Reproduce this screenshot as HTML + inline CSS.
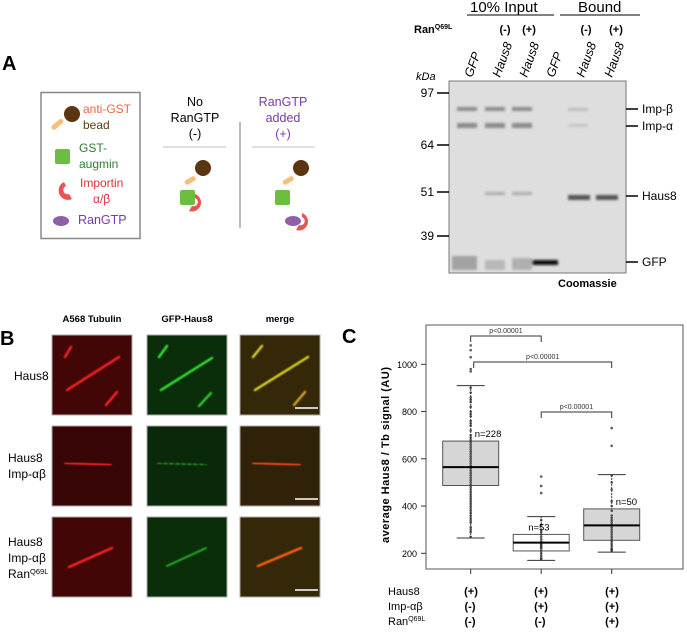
<!DOCTYPE html>
<html><head><meta charset="utf-8">
<style>
body{margin:0;background:#fff;}
svg{display:block;font-family:"Liberation Sans",Arial,sans-serif;}
</style></head>
<body>
<svg id="fig" width="687" height="636" viewBox="0 0 687 636">
<defs>
<filter id="blur1"><feGaussianBlur stdDeviation="0.8"/></filter>
<filter id="blur2"><feGaussianBlur stdDeviation="1.2"/></filter>
</defs>
<!-- Panel A -->
<text x="2" y="70" font-size="20" font-weight="bold">A</text>
<g>
<rect x="41" y="92.5" width="99" height="146" fill="#fff" stroke="#888" stroke-width="1.5"/>
<rect x="50" y="122" width="14" height="5" rx="2.5" fill="#f6c07a" transform="rotate(-40 57 124)"/>
<circle cx="72" cy="114" r="8" fill="#5a3510"/>
<text x="83" y="113" font-size="12" fill="#f0663c">anti-GST</text>
<text x="83" y="129" font-size="12" fill="#5a3a1c">bead</text>
<rect x="55" y="149" width="15" height="15" rx="2" fill="#6abf40"/>
<text x="79" y="152" font-size="12" fill="#2e7d32">GST-</text>
<text x="79" y="168" font-size="12" fill="#2e7d32">augmin</text>
<path d="M64 182 a9 9 0 1 0 8 17 l-3 -5 a4 4 0 1 1 -3 -8 z" fill="#e85454"/>
<text x="80" y="187" font-size="12" fill="#d8343c">Importin</text>
<text x="93" y="203" font-size="12" fill="#d8343c">α/β</text>
<ellipse cx="61" cy="221" rx="8" ry="5" fill="#8e60a8"/>
<text x="78" y="224" font-size="12.5" fill="#7a3aa8">RanGTP</text>
</g>
<g>
<text x="195" y="106" font-size="12.5" text-anchor="middle">No</text>
<text x="195" y="122" font-size="12.5" text-anchor="middle">RanGTP</text>
<text x="195" y="138" font-size="12.5" text-anchor="middle">(-)</text>
<line x1="163" y1="147" x2="226" y2="147" stroke="#c8b8d8"/>
<circle cx="203" cy="168" r="8" fill="#5a3510"/>
<rect x="184" y="178" width="12" height="5" rx="2.5" fill="#f6c07a" transform="rotate(-30 190 180)"/>
<path d="M195 194 a9 9 0 1 1 -6 17 l3 -5 a4 4 0 1 0 3 -8 z" fill="#e85454"/>
<rect x="180" y="190" width="15" height="15" rx="2" fill="#6abf40"/>
</g>
<line x1="240" y1="122" x2="240" y2="228" stroke="#777"/>
<g>
<text x="283" y="106" font-size="12.5" text-anchor="middle" fill="#7a3aa8">RanGTP</text>
<text x="283" y="122" font-size="12.5" text-anchor="middle" fill="#7a3aa8">added</text>
<text x="283" y="138" font-size="12.5" text-anchor="middle" fill="#7a3aa8">(+)</text>
<line x1="252" y1="147" x2="315" y2="147" stroke="#c8b8d8"/>
<circle cx="301" cy="168" r="8" fill="#5a3510"/>
<rect x="282" y="178" width="12" height="5" rx="2.5" fill="#f6c07a" transform="rotate(-30 288 180)"/>
<rect x="275" y="190" width="15" height="15" rx="2" fill="#6abf40"/>
<path d="M302 213 a9 9 0 1 1 -6 17 l3 -5 a4 4 0 1 0 3 -8 z" fill="#e85454"/>
<ellipse cx="293" cy="221" rx="8" ry="5" fill="#8e60a8"/>
</g>
<!-- Gel -->
<g>
<text x="470" y="12" font-size="15">10% Input</text>
<line x1="467" y1="15" x2="554" y2="15" stroke="#000"/>
<text x="578" y="12" font-size="15">Bound</text>
<line x1="560" y1="15" x2="640" y2="15" stroke="#000"/>
<text x="414" y="33" font-size="11" font-weight="bold">Ran<tspan font-size="7" dy="-4">Q69L</tspan></text>
<g font-size="11" font-weight="bold" text-anchor="middle">
<text x="505" y="33">(-)</text><text x="529" y="33">(+)</text>
<text x="586" y="33">(-)</text><text x="616" y="33">(+)</text>
</g>
<g font-size="12.5" font-style="italic">
<text transform="translate(472,78) rotate(-70)">GFP</text>
<text transform="translate(500,78) rotate(-70)">Haus8</text>
<text transform="translate(527,78) rotate(-70)">Haus8</text>
<text transform="translate(554,78) rotate(-70)">GFP</text>
<text transform="translate(584,78) rotate(-70)">Haus8</text>
<text transform="translate(612,78) rotate(-70)">Haus8</text>
</g>
<text x="416" y="80" font-size="11" font-style="italic">kDa</text>
<rect x="449" y="81" width="177" height="192" fill="#dedede" stroke="#777"/>
<g filter="url(#blur2)">
<rect x="457" y="107" width="20" height="4" fill="#8a8a8a"/><rect x="485" y="107" width="20" height="4" fill="#8a8a8a"/><rect x="512" y="107" width="20" height="4" fill="#8a8a8a"/>
<rect x="457" y="123" width="20" height="5" fill="#8a8a8a"/><rect x="485" y="123" width="20" height="5" fill="#8a8a8a"/><rect x="512" y="123" width="20" height="5" fill="#8a8a8a"/>
<rect x="485" y="192" width="20" height="3" fill="#ababab"/><rect x="512" y="192" width="20" height="3" fill="#ababab"/>
<rect x="568" y="108" width="20" height="3" fill="#bcbcbc"/><rect x="568" y="124" width="20" height="3" fill="#c4c4c4"/>
<rect x="568" y="195" width="22" height="5" fill="#555"/><rect x="596" y="195" width="22" height="5" fill="#555"/>
<rect x="531" y="260" width="27" height="5" fill="#111"/>
<rect x="452" y="256" width="25" height="14" fill="#a2a2a2"/><rect x="485" y="260" width="20" height="10" fill="#b8b8b8"/><rect x="512" y="258" width="20" height="12" fill="#b0b0b0"/>
</g>
<g font-size="12" text-anchor="end">
<text x="434" y="97">97</text><text x="434" y="149">64</text><text x="434" y="196">51</text><text x="434" y="240">39</text>
</g>
<g stroke="#000" stroke-width="1.5">
<line x1="437" y1="93" x2="449" y2="93"/><line x1="437" y1="145" x2="449" y2="145"/><line x1="437" y1="192" x2="449" y2="192"/><line x1="437" y1="236" x2="449" y2="236"/>
<line x1="626" y1="109" x2="638" y2="109"/><line x1="626" y1="126" x2="638" y2="126"/><line x1="626" y1="196" x2="638" y2="196"/><line x1="626" y1="262" x2="638" y2="262"/>
</g>
<g font-size="12">
<text x="642" y="113">Imp-β</text><text x="642" y="130">Imp-α</text><text x="642" y="200">Haus8</text><text x="642" y="266">GFP</text>
</g>
<text x="558" y="287" font-size="11" font-weight="bold">Coomassie</text>
</g>
<!-- Panel B -->
<text x="0" y="345" font-size="20" font-weight="bold">B</text>
<g font-size="9.5" font-weight="bold" text-anchor="middle">
<text x="92" y="322">A568 Tubulin</text><text x="187" y="322">GFP-Haus8</text><text x="280" y="322">merge</text>
</g>
<g font-size="12">
<text x="14" y="380">Haus8</text>
<text x="8" y="462">Haus8</text><text x="8" y="478">Imp-αβ</text>
<text x="8" y="546">Haus8</text><text x="8" y="562">Imp-αβ</text><text x="8" y="578">Ran<tspan font-size="7.5" dy="-4">Q69L</tspan></text>
</g>
<g id="micro">
<rect x="52" y="335" width="80" height="80" fill="#420606" stroke="#aaa"/>
<rect x="147" y="335" width="80" height="80" fill="#0a2e0a" stroke="#aaa"/>
<rect x="240" y="335" width="80" height="80" fill="#342808" stroke="#aaa"/>
<g stroke-width="2.5" stroke-linecap="round" filter="url(#blur1)">
<line x1="67" y1="390" x2="119" y2="357" stroke="#ff2020"/><line x1="65" y1="357" x2="71" y2="347" stroke="#ff2020"/><line x1="106" y1="405" x2="117" y2="392" stroke="#ff2020"/>
<line x1="161" y1="390" x2="212" y2="358" stroke="#30e030"/><line x1="159" y1="357" x2="167" y2="346" stroke="#30e030"/><line x1="199" y1="406" x2="211" y2="393" stroke="#30c030"/>
<line x1="255" y1="390" x2="308" y2="357" stroke="#d8d020"/><line x1="253" y1="357" x2="262" y2="346" stroke="#d8d020"/><line x1="294" y1="405" x2="305" y2="392" stroke="#d8a020"/>
</g>
<rect x="52" y="426" width="80" height="80" fill="#380606" stroke="#aaa"/>
<rect x="147" y="426" width="80" height="80" fill="#0a280a" stroke="#aaa"/>
<rect x="240" y="426" width="80" height="80" fill="#302208" stroke="#aaa"/>
<g stroke-width="2" stroke-linecap="round" filter="url(#blur1)">
<line x1="65" y1="463" x2="111" y2="465" stroke="#ff2020"/>
<line x1="158" y1="463" x2="206" y2="465" stroke="#208a20" stroke-dasharray="3 3"/>
<line x1="253" y1="463" x2="300" y2="465" stroke="#ff4a10"/>
</g>
<rect x="52" y="517" width="80" height="80" fill="#420606" stroke="#aaa"/>
<rect x="147" y="517" width="80" height="80" fill="#0a2e0a" stroke="#aaa"/>
<rect x="240" y="517" width="80" height="80" fill="#342808" stroke="#aaa"/>
<g stroke-width="2.5" stroke-linecap="round" filter="url(#blur1)">
<line x1="69" y1="567" x2="112" y2="548" stroke="#ff2020"/>
<line x1="167" y1="566" x2="206" y2="548" stroke="#28b028" stroke-width="1.8"/>
<line x1="258" y1="566" x2="301" y2="548" stroke="#ff6010"/>
</g>
<g stroke="#fff" stroke-width="1.5">
<line x1="295" y1="408" x2="318" y2="408"/><line x1="295" y1="499" x2="318" y2="499"/><line x1="295" y1="590" x2="318" y2="590"/>
</g>
</g>
<!-- Panel C -->
<text x="342" y="343" font-size="20" font-weight="bold">C</text>
<rect x="426" y="325" width="257" height="244" fill="#fff" stroke="#555"/>
<text transform="translate(389,455) rotate(-90)" font-size="11" font-weight="bold" text-anchor="middle" textLength="176">average Haus8 / Tb signal (AU)</text>
<g id="yaxis"></g>
<g id="boxes"></g>
<g id="brackets"></g>
<g font-size="11">
<text x="388" y="595">Haus8</text><text x="388" y="610">Imp-αβ</text><text x="388" y="625">Ran<tspan font-size="7" dy="-4">Q69L</tspan></text>
<g font-weight="bold" text-anchor="middle">
<text x="471" y="595">(+)</text><text x="541" y="595">(+)</text><text x="612" y="595">(+)</text>
<text x="470" y="610">(-)</text><text x="541" y="610">(+)</text><text x="612" y="610">(+)</text>
<text x="470" y="625">(-)</text><text x="540" y="625">(-)</text><text x="612" y="625">(+)</text>
</g>
</g>
</svg>
<script>
const groups = ["Haus8", "Haus8+Imp", "Haus8+Imp+Ran"];
const q1 = [487, 210, 255];
const medians = [565, 245, 318];
const q3 = [675, 280, 388];
const whiskLo = [265, 170, 205];
const whiskHi = [910, 355, 533];
const nLabels = ["n=228", "n=53", "n=50"];
const boxFill = ["#d6d6d6", "#ffffff", "#d6d6d6"];
const pts0 = [1080,1060,1030,980,970,900,880,860,850,840,820,800,790,780,760,750,740,720,700,690,680,670,660,650,640,630,620,610,600,590,580,570,560,550,540,530,520,510,500,490,480,470,460,450,440,430,420,410,400,390,380,370,360,350,340,330,310,300,290,270];
const pts1 = [525,485,455,340,320,300,290,280,270,260,250,245,240,235,230,225,220,210,200,190,180,175];
const pts2 = [730,655,530,500,470,420,400,380,360,350,340,330,320,310,300,290,280,270,260,250,240,230,220,215,210];
const points = [pts0, pts1, pts2];
const yTicks = [200, 400, 600, 800, 1000];
const pLabels = ["p<0.00001", "p<0.00001", "p<0.00001"];

const NS = "http://www.w3.org/2000/svg";
const yS = v => 553.3 - (v - 200) * (189 / 800);
const xS = i => 470.7 + i * 70.5;
const boxHalf = 28;
function mk(tag, attrs, parent) { const e = document.createElementNS(NS, tag); for (const k in attrs) e.setAttribute(k, attrs[k]); parent.appendChild(e); return e; }

const ya = document.getElementById('yaxis');
yTicks.forEach(t => {
  const l = mk('line', {x1: 421, x2: 426, y1: yS(t), y2: yS(t), stroke: '#333'}, ya);
  
  
  const tx = mk('text', {x: 417, y: yS(t) + 3.5, 'font-size': 9, 'text-anchor': 'end'}, ya);
  tx.textContent = t;
  
  
});
groups.forEach((g, i) => {
  const x = xS(i);
  const tk = mk('line', {x1: x, x2: x, y1: 569, y2: 574, stroke: '#333'}, ya);
  
  
});

const bx = document.getElementById('boxes');
groups.forEach((g, i) => {
  const x = xS(i);
  const grp = mk('g', {}, bx);
  
  
  mk('line', {x1: x, x2: x, y1: yS(whiskLo[i]), y2: yS(whiskHi[i]), stroke: '#333', 'stroke-dasharray': '2 1'}, grp);
  mk('line', {x1: x - 14, x2: x + 14, y1: yS(whiskHi[i]), y2: yS(whiskHi[i]), stroke: '#333'}, grp);
  mk('line', {x1: x - 14, x2: x + 14, y1: yS(whiskLo[i]), y2: yS(whiskLo[i]), stroke: '#333'}, grp);
  const b = mk('rect', {x: x - boxHalf, y: yS(q3[i]), width: boxHalf * 2, height: yS(q1[i]) - yS(q3[i]), fill: boxFill[i], stroke: '#555'}, grp);
  
  
  points[i].forEach(v => {
    const c = mk('circle', {cx: x, cy: yS(v), r: 1.3, fill: '#333', 'fill-opacity': 0.8}, grp);
    
    
  });
  const m = mk('line', {x1: x - boxHalf, x2: x + boxHalf, y1: yS(medians[i]), y2: yS(medians[i]), stroke: '#000', 'stroke-width': 2}, grp);
  
  
  const nl = mk('text', {x: i === 1 ? x - 13 : x + 4, y: yS(q3[i]) - 4, 'font-size': 9.5}, grp);
  nl.textContent = nLabels[i];
  
  
});

const br = document.getElementById('brackets');
const pairs = [[0, 1, 336], [0, 2, 362], [1, 2, 412]];
pairs.forEach((p, k) => {
  const x1 = xS(p[0]) + (k === 1 ? 3 : 0), x2 = xS(p[1]), y = p[2];
  const pl = mk('polyline', {points: `${x1},${y + 6} ${x1},${y} ${x2},${y} ${x2},${y + 6}`, fill: 'none', stroke: '#333'}, br);
  
  
  const t = mk('text', {x: (x1 + x2) / 2, y: y - 3, 'font-size': 7, 'text-anchor': 'middle', fill: '#333'}, br);
  t.textContent = pLabels[k];
  
  
});
</script>
</body></html>
